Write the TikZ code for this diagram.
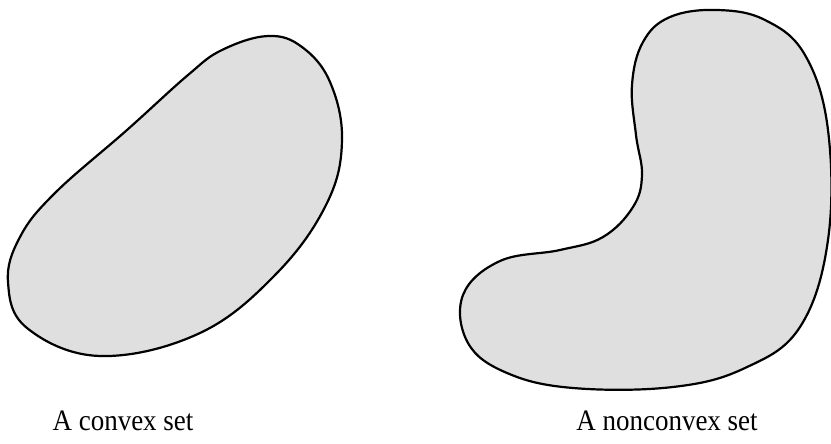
\documentclass[tikz,border=0pt]{standalone}
\usepackage{fontspec}
\setmainfont{Liberation Serif}
\begin{document}
\begin{tikzpicture}[x=1pt,y=-1pt,
  blob/.style={draw=black,line width=2.2pt,fill=gray!25!white},
  lbl/.style={font=\fontsize{27}{30}\selectfont,inner sep=0pt,anchor=base,yscale=1.1}]
\useasboundingbox (0,0) rectangle (831,444);
% convex set
\draw[blob] plot[smooth cycle,tension=0.65] coordinates {
  (268,36) (222,50) (188,75) (127,130) (55,193) (20,237) (8,282) (27,328)
  (100,356) (200,333) (277,273) (327,203) (342,140) (330,82) (302,47)};
% nonconvex set
\draw[blob] plot[smooth cycle,tension=0.65] coordinates {
  (717,10) (670,17) (643,42) (632,85) (636,135) (642,175) (633,207) (603,237)
  (560,250) (500,261) (463,295) (468,343) (507,373) (573,388) (673,387)
  (745,368) (800,327) (828,240) (828,130) (805,55) (765,20)};
\node[lbl] (convex) at (123,430) {A convex set};
\node[lbl] (nonconvex) at (667,430) {A nonconvex set};
\end{tikzpicture}
\end{document}
